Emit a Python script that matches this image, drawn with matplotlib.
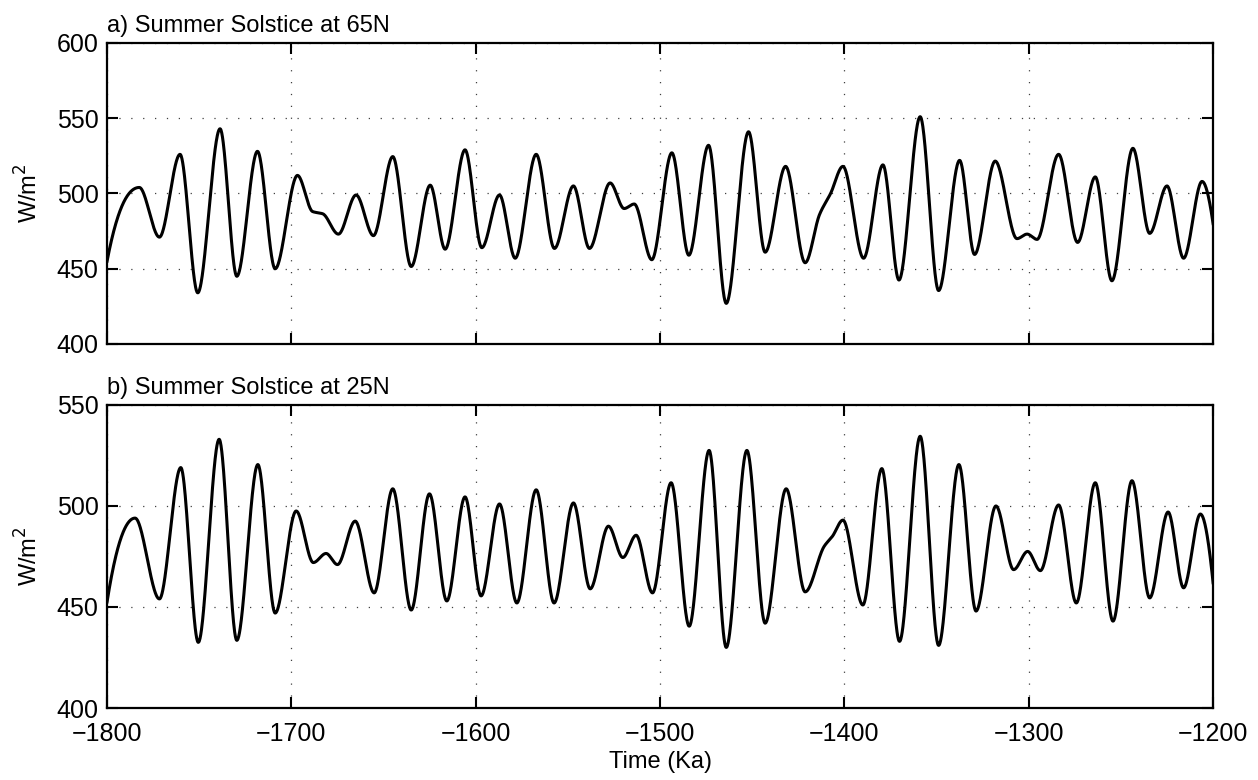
import matplotlib
matplotlib.use('Agg')
import matplotlib.pyplot as plt
import numpy as np

plt.rcParams['font.family'] = ['Liberation Sans', 'DejaVu Sans']

# extrema (and a few shoulder points), time in Ka
t_65n = [-1800, -1782.5, -1771.6, -1760.4, -1750.8, -1738.7, -1729.6, -1718.4, -1708.8, -1696.7,
         -1688.5, -1683.0, -1674.5, -1664.9, -1655.5, -1645.0, -1635.0, -1624.7, -1616.6, -1605.8,
         -1596.7, -1587.1, -1578.6, -1567.2, -1557.3, -1547.0, -1538.3, -1527.1, -1519.5, -1514.0,
         -1504.5, -1493.6, -1484.4, -1473.7, -1464.1, -1452.0, -1443.0, -1431.9, -1421.3, -1413.5,
         -1407.5, -1400.8, -1389.6, -1379.1, -1370.4, -1358.9, -1348.9, -1337.5, -1329.4, -1318.2,
         -1306.4, -1300.9, -1295.5, -1283.8, -1273.5, -1263.9, -1254.9, -1243.5, -1234.4, -1225.0,
         -1216.0, -1206.0, -1200]
w_65n = [455, 504, 471, 526, 434, 543, 445, 528, 450, 512,
         488, 486.5, 473, 499, 472, 524.5, 451.5, 505.5, 463, 529,
         464, 499, 457, 526, 463.5, 505, 463.5, 507, 490, 493,
         456, 527, 459, 532, 427, 541, 461, 518, 454, 486,
         500, 518, 457, 519, 442.5, 551, 435.5, 522, 459.5, 521.5,
         470, 473, 469.5, 526, 467.5, 511, 442, 530, 473.5, 505,
         457, 508, 480]

t_25n = [-1800, -1784.8, -1771.6, -1760.0, -1750.5, -1739.2, -1729.6, -1718.2, -1708.8, -1697.4,
         -1688.1, -1681.2, -1675.0, -1665.4, -1655.1, -1645.0, -1635.0, -1625.1, -1615.7, -1605.8,
         -1597.1, -1587.1, -1577.7, -1567.2, -1557.5, -1547.0, -1537.9, -1528.0, -1520.2, -1513.0,
         -1504.1, -1494.0, -1484.2, -1473.4, -1464.1, -1452.9, -1443.0, -1431.6, -1421.3, -1411.0,
         -1406.5, -1400.8, -1390.0, -1379.7, -1370.1, -1358.9, -1348.9, -1337.9, -1328.6, -1317.8,
         -1308.2, -1300.6, -1293.7, -1283.8, -1274.2, -1263.9, -1254.3, -1244.0, -1234.4, -1224.4,
         -1216.0, -1206.9, -1200]
w_25n = [452.5, 494, 454, 519, 432.5, 533, 433.5, 520.5, 447, 497.5,
         472, 476.5, 471, 492.5, 457, 508.5, 448.5, 506, 453, 504.5,
         455.5, 501, 452, 508, 452, 501.5, 459, 490, 474.5, 485.5,
         457, 511.5, 440.5, 527.5, 430, 527.5, 442, 508.5, 457.5, 480,
         485, 493, 451, 518.5, 433, 534.5, 431, 520.5, 448, 500,
         468.5, 477.5, 468, 500.5, 452, 511.5, 443, 512.5, 454.5, 497,
         459.5, 496, 462]

xticks = np.arange(-1800, -1199, 100)
yticks_a = np.arange(400, 601, 50)
yticks_b = np.arange(400, 551, 50)


def pchip(x, y, xs):
    # shape preserving cubic through the read points (flat at every extremum)
    x = np.asarray(x, float)
    y = np.asarray(y, float)
    h = np.diff(x)
    d = np.diff(y) / h
    n = len(x)
    m = np.zeros(n)
    for k in range(1, n - 1):
        if d[k - 1] * d[k] > 0:
            w1 = 2 * h[k] + h[k - 1]
            w2 = h[k] + 2 * h[k - 1]
            m[k] = (w1 + w2) / (w1 / d[k - 1] + w2 / d[k])
    for k, (h0, h1, d0, d1) in [(0, (h[0], h[1], d[0], d[1])), (n - 1, (h[-1], h[-2], d[-1], d[-2]))]:
        mk = ((2 * h0 + h1) * d0 - h0 * d1) / (h0 + h1)
        if np.sign(mk) != np.sign(d0):
            mk = 0
        elif np.sign(d0) != np.sign(d1) and abs(mk) > abs(3 * d0):
            mk = 3 * d0
        m[k] = mk
    i = np.clip(np.searchsorted(x, xs) - 1, 0, n - 2)
    s = (xs - x[i]) / h[i]
    h00 = 2 * s**3 - 3 * s**2 + 1
    h10 = s**3 - 2 * s**2 + s
    h01 = -2 * s**3 + 3 * s**2
    h11 = s**3 - s**2
    return h00 * y[i] + h10 * h[i] * m[i] + h01 * y[i + 1] + h11 * h[i] * m[i + 1]


def style(ax, yticks, ylim):
    ax.set_xlim(-1800, -1200)
    ax.set_ylim(ylim)
    ax.set_xticks(xticks)
    ax.set_yticks(yticks)
    ax.tick_params(direction='in', length=8, width=1.5, top=True, right=True,
                   labelsize=18, color='black')
    ax.tick_params(axis='y', pad=6)
    ax.tick_params(axis='x', pad=10)
    ax.grid(True, color='#404040', linewidth=0.9, linestyle=(0, (1, 8.5)))
    for sp in ax.spines.values():
        sp.set_linewidth(1.6)
    ax.set_ylabel('W/m$^2$', fontsize=17, labelpad=10)


fig = plt.figure(figsize=(12.58, 7.8), dpi=100)
ax1 = fig.add_axes([0.0851, 0.559, 0.8792, 0.3859])
ax2 = fig.add_axes([0.0851, 0.0923, 0.8792, 0.3885])

tt = np.linspace(-1800, -1200, 3000)
ax1.plot(tt, pchip(t_65n, w_65n, tt), color='black', linewidth=2.2)
style(ax1, yticks_a, (400, 600))
ax1.set_xticklabels([])
ax1.set_title('a) Summer Solstice at 65N', loc='left', fontsize=17, pad=8)

ax2.plot(tt, pchip(t_25n, w_25n, tt), color='black', linewidth=2.2)
style(ax2, yticks_b, (400, 550))
ax2.set_title('b) Summer Solstice at 25N', loc='left', fontsize=17, pad=8)
ax2.set_xlabel('Time (Ka)', fontsize=17, labelpad=4)

plt.savefig('out.png', dpi=100)
